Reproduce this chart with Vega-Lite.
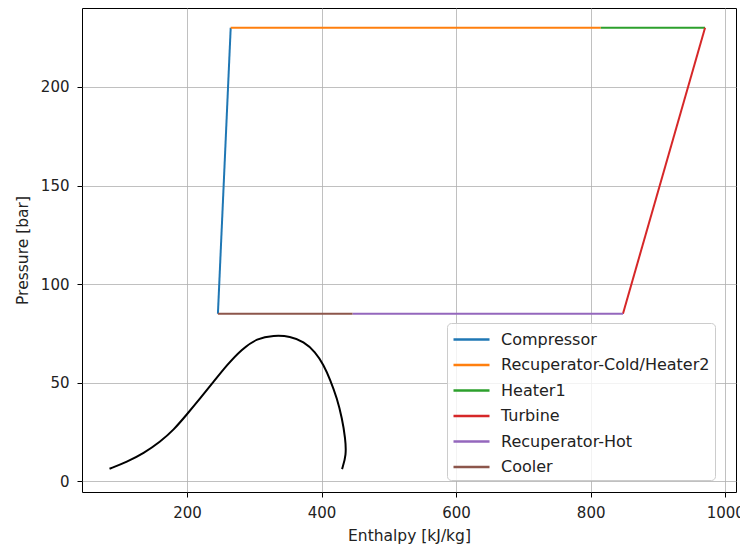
{
  "$schema": "https://vega.github.io/schema/vega-lite/v6.json",
  "width": 654,
  "height": 484,
  "autosize": "none",
  "padding": {"left": 82, "top": 8, "right": 4, "bottom": 53},
  "background": "white",
  "config": {
    "font": "DejaVu Sans",
    "view": {"stroke": "black", "strokeWidth": 1},
    "axis": {
      "grid": true, "gridColor": "#b0b0b0", "gridWidth": 0.8,
      "domain": false, "tickColor": "black", "tickSize": 5, "tickWidth": 1,
      "labelFontSize": 15, "labelColor": "#222222", "titleFontSize": 15.5,
      "titleFontWeight": "normal", "titleColor": "#222222", "labelPadding": 8
    }
  },
  "datasets": {
    "dome": [
      {"i": 1, "h": 84.9, "p": 6.4},
      {"i": 2, "h": 110.8, "p": 9.9},
      {"i": 3, "h": 135.5, "p": 14.2},
      {"i": 4, "h": 160.3, "p": 20.1},
      {"i": 5, "h": 180.1, "p": 26.0},
      {"i": 6, "h": 200.0, "p": 34.0},
      {"i": 7, "h": 219.8, "p": 42.1},
      {"i": 8, "h": 239.6, "p": 50.5},
      {"i": 9, "h": 259.5, "p": 59.0},
      {"i": 10, "h": 281.0, "p": 66.9},
      {"i": 11, "h": 304.1, "p": 72.5},
      {"i": 12, "h": 328.8, "p": 74.0},
      {"i": 13, "h": 353.6, "p": 73.6},
      {"i": 14, "h": 373.4, "p": 70.8},
      {"i": 15, "h": 390.8, "p": 65.7},
      {"i": 16, "h": 403.1, "p": 59.0},
      {"i": 17, "h": 413.1, "p": 51.4},
      {"i": 18, "h": 423.0, "p": 42.1},
      {"i": 19, "h": 430.5, "p": 32.0},
      {"i": 20, "h": 435.4, "p": 21.8},
      {"i": 21, "h": 436.9, "p": 13.3},
      {"i": 22, "h": 430.5, "p": 6.2}
    ],
    "cycle": [
      {"process": "Compressor", "i": 1, "h": 246, "p": 85},
      {"process": "Compressor", "i": 2, "h": 265, "p": 230},
      {"process": "Recuperator-Cold/Heater2", "i": 1, "h": 265, "p": 230},
      {"process": "Recuperator-Cold/Heater2", "i": 2, "h": 815, "p": 230},
      {"process": "Heater1", "i": 1, "h": 815, "p": 230},
      {"process": "Heater1", "i": 2, "h": 970, "p": 230},
      {"process": "Turbine", "i": 1, "h": 970, "p": 230},
      {"process": "Turbine", "i": 2, "h": 848, "p": 85},
      {"process": "Recuperator-Hot", "i": 1, "h": 848, "p": 85},
      {"process": "Recuperator-Hot", "i": 2, "h": 446, "p": 85},
      {"process": "Cooler", "i": 1, "h": 446, "p": 85},
      {"process": "Cooler", "i": 2, "h": 246, "p": 85}
    ]
  },
  "layer": [
    {
      "data": {"name": "cycle"},
      "mark": {"type": "line", "strokeWidth": 2},
      "encoding": {
        "x": {"field": "h", "type": "quantitative", "title": "Enthalpy [kJ/kg]",
              "scale": {"domain": [44, 1016], "nice": false, "zero": false},
              "axis": {"values": [200, 400, 600, 800, 1000], "format": "d", "titlePadding": 8}},
        "y": {"field": "p", "type": "quantitative", "title": "Pressure [bar]",
              "scale": {"domain": [-5.4, 240], "nice": false, "zero": false},
              "axis": {"values": [0, 50, 100, 150, 200], "format": "d", "titlePadding": 10}},
        "order": {"field": "i"},
        "color": {
          "field": "process", "type": "nominal",
          "scale": {
            "domain": ["Compressor", "Recuperator-Cold/Heater2", "Heater1", "Turbine", "Recuperator-Hot", "Cooler"],
            "range": ["#1f77b4", "#ff7f0e", "#2ca02c", "#d62728", "#9467bd", "#8c564b"]
          },
          "legend": {
            "title": null, "orient": "none", "legendX": 365, "legendY": 315,
            "symbolType": "M-1,0H2.6", "symbolSize": 400, "symbolStrokeWidth": 2.5,
            "labelFontSize": 16, "labelColor": "#222222", "labelOffset": 26, "labelLimit": 400,
            "fillColor": "rgba(255,255,255,0.8)", "strokeColor": "#cccccc",
            "cornerRadius": 4, "padding": 5, "rowPadding": 5.5
          }
        }
      }
    },
    {
      "data": {"name": "dome"},
      "mark": {"type": "line", "color": "black", "strokeWidth": 2, "interpolate": "basis"},
      "encoding": {
        "x": {"field": "h", "type": "quantitative"},
        "y": {"field": "p", "type": "quantitative"},
        "order": {"field": "i"}
      }
    }
  ]
}
